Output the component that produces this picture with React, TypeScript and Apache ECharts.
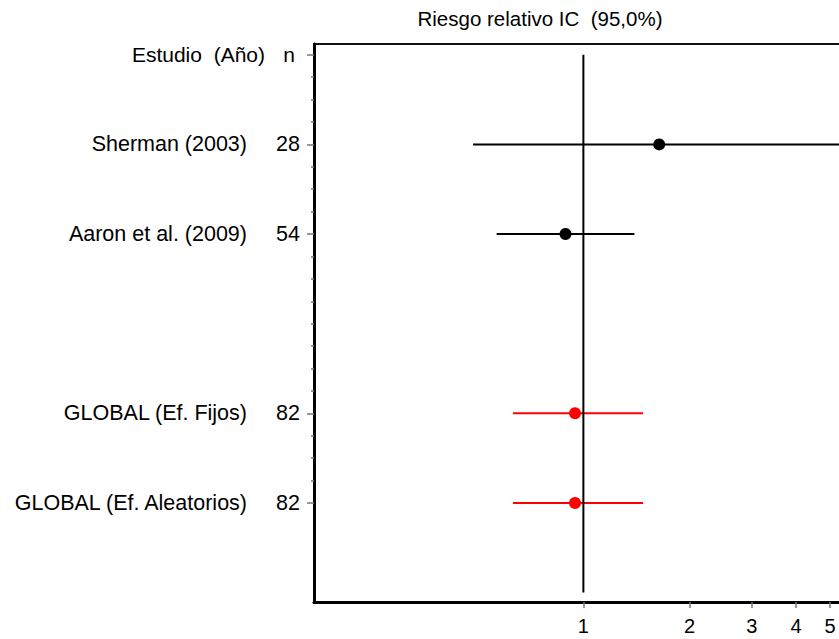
import React, { useEffect, useRef } from "react";
import * as echarts from "echarts";

const titleText = "Riesgo relativo IC  (95,0%)";
const headerStudy = "Estudio  (Año)";
const headerN = "n";
const studies = ["Sherman (2003)", "Aaron et al. (2009)", "GLOBAL (Ef. Fijos)", "GLOBAL (Ef. Aleatorios)"];
const nValues = [28, 54, 82, 82];
const rows = [1, 2, 4, 5];
const rr = [1.64, 0.89, 0.947, 0.947];
const lower = [0.487, 0.568, 0.632, 0.632];
const upper = [5.51, 1.395, 1.476, 1.476];
const pointColors = ["#000000", "#000000", "#ff0000", "#ff0000"];
const xTickValues = [1, 2, 3, 4, 5];
const majorRows = [0, 1, 2, 4, 5];
const minorRows = [0.25, 0.5, 0.75, 1.25, 1.5, 1.75, 2.25, 2.5, 2.75, 3, 3.25, 3.5, 3.75, 4.25, 4.5, 4.75];
const refLine = [[1, 0], [1, 6]];

const FONT = "'Liberation Sans', Arial, sans-serif";

export default function App() {
  const ref = useRef<HTMLDivElement>(null);
  useEffect(() => {
    if (!ref.current) return;
    document.body.style.overflow = "hidden";
    const chart = echarts.init(ref.current, null, { renderer: "svg" });
    const lg = (v: number) => Math.log10(v);
    const labelFor = (v: number) => {
      if (Math.abs(v) < 1e-6) return `{h|${headerStudy}}{hn|${headerN}}`;
      const i = rows.findIndex((r) => Math.abs(r - v) < 1e-6);
      if (i < 0) return "";
      return `{a|${studies[i]}}{b|${nValues[i]}}`;
    };
    const option: any = {
      animation: false,
      backgroundColor: "#ffffff",
      textStyle: { fontFamily: FONT },
      title: {
        text: titleText,
        left: 535,
        top: 3,
        textAlign: "center",
        textStyle: { fontFamily: FONT, fontSize: 20.5, fontWeight: "normal", color: "#000" },
      },
      grid: {
        left: 314,
        top: 44,
        width: 555,
        height: 558,
        show: true,
        borderColor: "#111",
        borderWidth: 2,
        backgroundColor: "transparent",
      },
      xAxis: {
        type: "value",
        min: -0.763,
        max: 0.809,
        splitLine: { show: false },
        axisLine: { show: true, onZero: false, lineStyle: { color: "#000", width: 3 } },
        axisTick: {
          show: true,
          customValues: xTickValues.map(lg),
          length: 6,
          lineStyle: { color: "#777", width: 1.5 },
        },
        axisLabel: {
          customValues: xTickValues.map(lg),
          formatter: (v: number) => String(Math.round(Math.pow(10, v))),
          fontFamily: FONT,
          fontSize: 20,
          color: "#000",
          margin: 14,
        },
      },
      yAxis: [
        {
          type: "value",
          min: -0.12,
          max: 6.105,
          inverse: true,
          splitLine: { show: false },
          axisLine: { show: true, onZero: false, lineStyle: { color: "#000", width: 3 } },
          axisTick: {
            show: true,
            customValues: majorRows,
            length: 7,
            lineStyle: { color: "#777", width: 1.5 },
          },
          axisLabel: {
            customValues: majorRows,
            formatter: labelFor,
            margin: 14,
            color: "#000",
            fontFamily: FONT,
            fontSize: 21.5,
            rich: {
              a: { fontFamily: FONT, fontSize: 21.5, color: "#000" },
              b: { fontFamily: FONT, fontSize: 21.5, color: "#000", width: 53, align: "right" },
              h: { fontFamily: FONT, fontSize: 21, color: "#000" },
              hn: { fontFamily: FONT, fontSize: 21, color: "#000", width: 30, align: "right", padding: [0, 5, 0, 0] },
            },
          },
        },
        {
          type: "value",
          min: -0.12,
          max: 6.105,
          inverse: true,
          position: "left",
          splitLine: { show: false },
          axisLine: { show: false, onZero: false },
          axisTick: {
            show: true,
            customValues: minorRows,
            length: 3,
            lineStyle: { color: "#777", width: 1.5 },
          },
          axisLabel: { show: false },
        },
      ],
      series: [
        {
          type: "line",
          data: refLine.map((p) => [lg(p[0]), p[1]]),
          symbol: "none",
          lineStyle: { color: "#000", width: 2 },
          silent: true,
        },
        {
          type: "custom",
          renderItem: (params: any, api: any) => {
            const y = api.value(1);
            const p1 = api.coord([api.value(2), y]);
            const p2 = api.coord([api.value(3), y]);
            return {
              type: "line",
              shape: { x1: p1[0], y1: p1[1], x2: p2[0], y2: p2[1] },
              style: { stroke: api.visual("color"), lineWidth: 2 },
            };
          },
          data: rows.map((r, i) => ({
            value: [lg(rr[i]), r, lg(lower[i]), lg(upper[i])],
            itemStyle: { color: pointColors[i] },
          })),
          encode: { x: [0, 2, 3], y: 1 },
          silent: true,
        },
        {
          type: "scatter",
          symbol: "circle",
          symbolSize: 12,
          data: rows.map((r, i) => ({
            value: [lg(rr[i]), r],
            itemStyle: { color: pointColors[i], opacity: 1 },
          })),
          silent: true,
        },
      ],
    };
    chart.setOption(option);
    return () => chart.dispose();
  }, []);
  return (
    <div
      ref={ref}
      style={{ position: "fixed", left: 0, top: 0, width: 900, height: 639, background: "#fff" }}
    />
  );
}
